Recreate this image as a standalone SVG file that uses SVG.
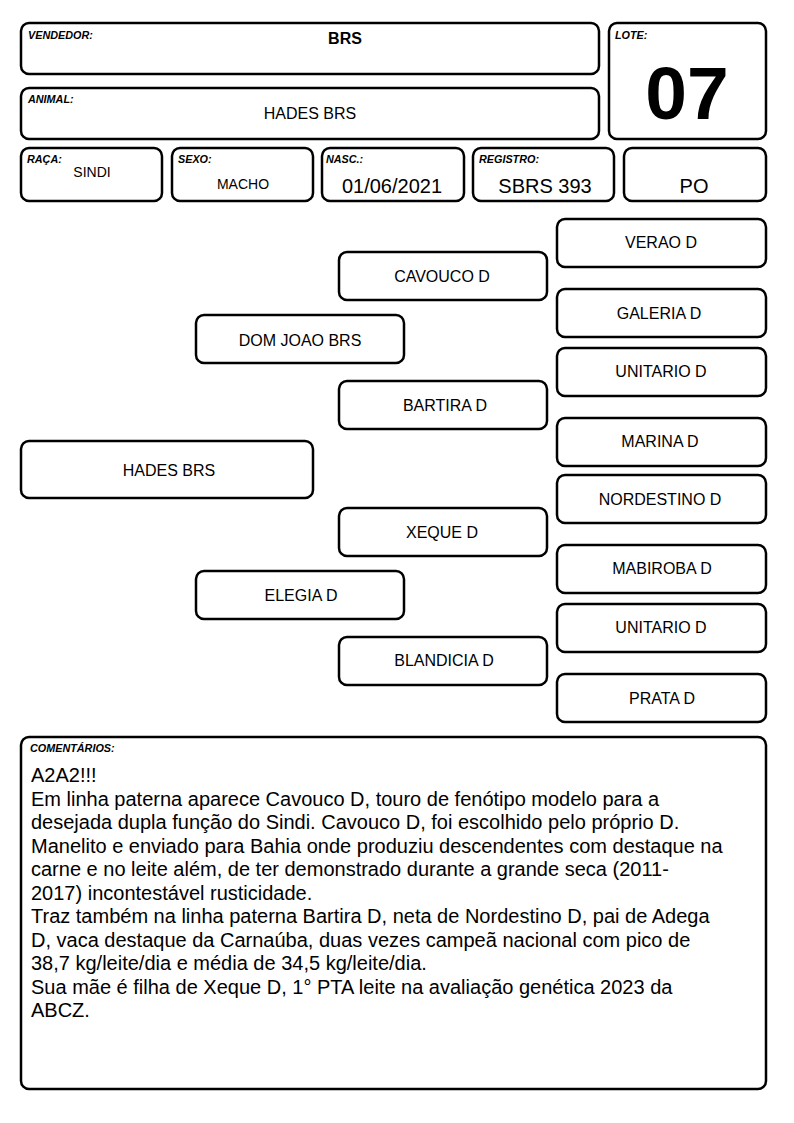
<svg xmlns="http://www.w3.org/2000/svg" width="794" height="1123" viewBox="0 0 794 1123">
<style>
.b{fill:#fff;stroke:#000;stroke-width:2.5}
.l{font-family:"Liberation Sans",Arial,sans-serif;font-size:10.8px;font-weight:bold;font-style:italic}
.v{font-family:"Liberation Sans",Arial,sans-serif;font-size:16px;text-anchor:middle}
.s{font-size:14px}
.m{font-size:20px}
.c{font-family:"Liberation Sans",Arial,sans-serif;font-size:20px}
</style>
<rect width="794" height="1123" fill="#fff"/>
<g id="vendedor"><rect class="b" x="21" y="23" width="578" height="51" rx="8"/><text class="l" x="28" y="39">VENDEDOR:</text><text class="v" x="345" y="44" font-weight="bold">BRS</text></g>
<g id="animal"><rect class="b" x="21" y="88" width="578" height="51" rx="8"/><text class="l" x="28" y="103">ANIMAL:</text><text class="v" x="310" y="119">HADES BRS</text></g>
<g id="lote"><rect class="b" x="609" y="23" width="157" height="116" rx="8"/><text class="l" x="615" y="39">LOTE:</text><text x="687" y="119" font-family="Liberation Sans,Arial,sans-serif" font-size="75" font-weight="bold" text-anchor="middle">07</text></g>
<g id="raca"><rect class="b" x="21" y="148" width="141" height="53" rx="8"/><text class="l" x="27" y="163">RAÇA:</text><text class="v s" x="92" y="177">SINDI</text></g>
<g id="sexo"><rect class="b" x="172" y="148" width="141" height="53" rx="8"/><text class="l" x="178" y="163">SEXO:</text><text class="v s" x="243" y="189">MACHO</text></g>
<g id="nasc"><rect class="b" x="322" y="148" width="142" height="53" rx="8"/><text class="l" x="326" y="163">NASC.:</text><text class="v m" x="392" y="193">01/06/2021</text></g>
<g id="registro"><rect class="b" x="473" y="148" width="141" height="53" rx="8"/><text class="l" x="479" y="163">REGISTRO:</text><text class="v m" x="545" y="193">SBRS 393</text></g>
<g id="po"><rect class="b" x="624" y="148" width="142" height="53" rx="8"/><text class="v m" x="694" y="193">PO</text></g>
<g id="connectors"></g>
<g id="n_verao"><rect class="b" x="557" y="219" width="209" height="48" rx="8"/><text class="v" x="661" y="248">VERAO D</text></g>
<g id="n_cavouco"><rect class="b" x="339" y="252" width="208" height="48" rx="8"/><text class="v" x="442" y="282">CAVOUCO D</text></g>
<g id="n_galeria"><rect class="b" x="557" y="289" width="209" height="48" rx="8"/><text class="v" x="659" y="319">GALERIA D</text></g>
<g id="n_domjoao"><rect class="b" x="196" y="315" width="208" height="48" rx="8"/><text class="v" x="300" y="346">DOM JOAO BRS</text></g>
<g id="n_unitario1"><rect class="b" x="557" y="348" width="209" height="48" rx="8"/><text class="v" x="661" y="377">UNITARIO D</text></g>
<g id="n_bartira"><rect class="b" x="339" y="381" width="208" height="48" rx="8"/><text class="v" x="445" y="411">BARTIRA D</text></g>
<g id="n_marina"><rect class="b" x="557" y="418" width="209" height="48" rx="8"/><text class="v" x="660" y="447">MARINA D</text></g>
<g id="n_hades"><rect class="b" x="21" y="441" width="292" height="57" rx="8"/><text class="v" x="169" y="476">HADES BRS</text></g>
<g id="n_nordestino"><rect class="b" x="557" y="475" width="209" height="48" rx="8"/><text class="v" x="660" y="505">NORDESTINO D</text></g>
<g id="n_xeque"><rect class="b" x="339" y="508" width="208" height="48" rx="8"/><text class="v" x="442" y="538">XEQUE D</text></g>
<g id="n_mabiroba"><rect class="b" x="557" y="545" width="209" height="48" rx="8"/><text class="v" x="662" y="574">MABIROBA D</text></g>
<g id="n_elegia"><rect class="b" x="196" y="571" width="208" height="48" rx="8"/><text class="v" x="301" y="601">ELEGIA D</text></g>
<g id="n_unitario2"><rect class="b" x="557" y="604" width="209" height="48" rx="8"/><text class="v" x="661" y="633">UNITARIO D</text></g>
<g id="n_blandicia"><rect class="b" x="339" y="637" width="208" height="48" rx="8"/><text class="v" x="444" y="666">BLANDICIA D</text></g>
<g id="n_prata"><rect class="b" x="557" y="674" width="209" height="48" rx="8"/><text class="v" x="662" y="704">PRATA D</text></g>
<g id="comentarios"><rect class="b" x="21" y="737" width="745" height="352" rx="8"/><text class="l" x="30" y="752">COMENTÁRIOS:</text>
<text class="c" x="31" y="782">A2A2!!!</text>
<text class="c" x="31" y="805.5">Em linha paterna aparece Cavouco D, touro de fenótipo modelo para a</text>
<text class="c" x="31" y="829">desejada dupla função do Sindi. Cavouco D, foi escolhido pelo próprio D.</text>
<text class="c" x="31" y="852.5">Manelito e enviado para Bahia onde produziu descendentes com destaque na</text>
<text class="c" x="31" y="876">carne e no leite além, de ter demonstrado durante a grande seca (2011-</text>
<text class="c" x="31" y="899.5">2017) incontestável rusticidade.</text>
<text class="c" x="31" y="923">Traz também na linha paterna Bartira D, neta de Nordestino D, pai de Adega</text>
<text class="c" x="31" y="946.5">D, vaca destaque da Carnaúba, duas vezes campeã nacional com pico de</text>
<text class="c" x="31" y="970">38,7 kg/leite/dia e média de 34,5 kg/leite/dia.</text>
<text class="c" x="31" y="993.5">Sua mãe é filha de Xeque D, 1° PTA leite na avaliação genética 2023 da</text>
<text class="c" x="31" y="1017">ABCZ.</text>
</g>
</svg>
